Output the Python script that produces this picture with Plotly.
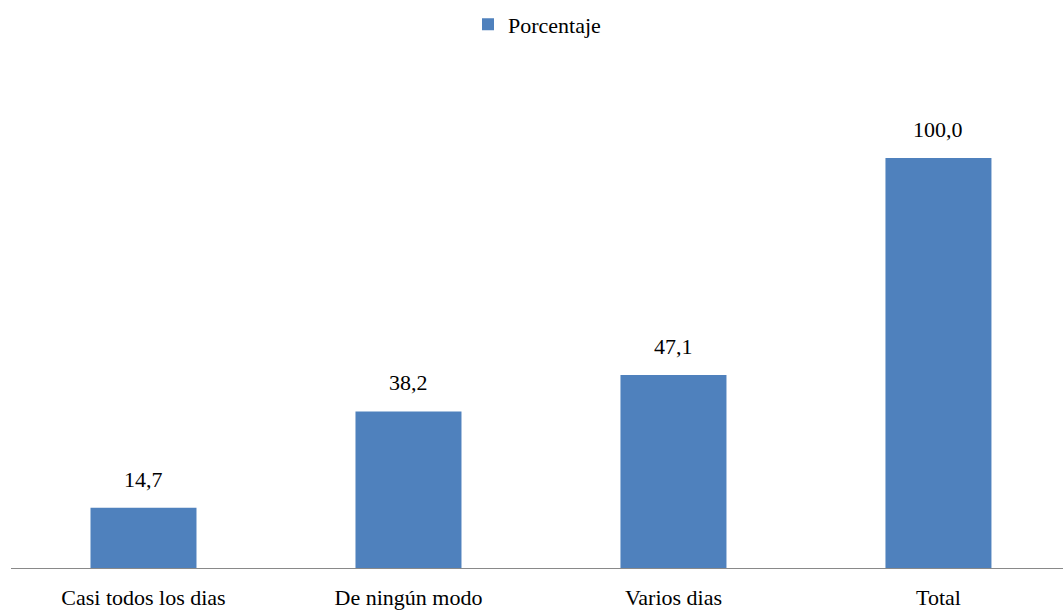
import plotly.graph_objects as go

categories = ["Casi todos los dias", "De ningún modo", "Varios dias", "Total"]
values = [14.7, 38.2, 47.1, 100.0]
series_name = "Porcentaje"

FONT = "Times New Roman, Liberation Serif, DejaVu Serif, serif"

fig = go.Figure()
fig.add_trace(go.Bar(
    x=categories, y=values, name=series_name,
    marker=dict(color="#4F81BD", line=dict(width=0)),
    width=0.4, showlegend=True,
))

for c, v in zip(categories, values):
    fig.add_annotation(
        x=c, y=v, xref="x", yref="y", text=f"{v:.1f}".replace(".", ","),
        showarrow=False, yanchor="bottom", yshift=14,
        font=dict(family=FONT, size=22, color="#000000"),
    )

fig.update_layout(
    width=1063, height=614,
    margin=dict(l=11, r=0, t=76, b=46, autoexpand=False),
    paper_bgcolor="white", plot_bgcolor="white",
    separators=",.",
    font=dict(family=FONT, size=22, color="#000000"),
    showlegend=True,
    legend=dict(orientation="h", x=0.5, xanchor="center", y=1.105, yanchor="middle",
                font=dict(family=FONT, size=22, color="#000000"), itemwidth=30),
    xaxis=dict(range=[-0.5, 3.47], showline=True, linecolor="#898989", linewidth=1,
               ticks="", showgrid=False, zeroline=False, ticklabelstandoff=10,
               tickfont=dict(family=FONT, size=22, color="#000000")),
    yaxis=dict(range=[0, 120], visible=False, showgrid=False, zeroline=False),
)

fig.write_html("out.html")
